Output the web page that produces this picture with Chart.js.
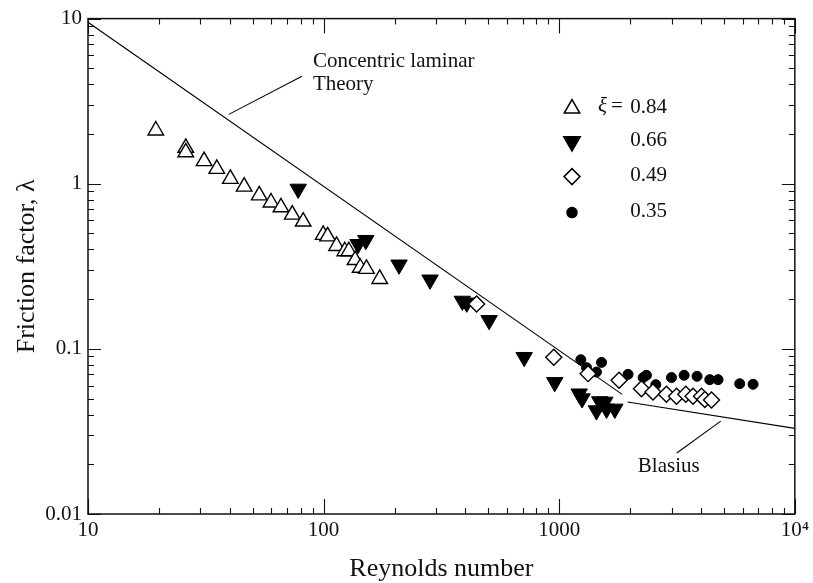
<!DOCTYPE html>
<html><head><meta charset="utf-8">
<script src="https://cdn.jsdelivr.net/npm/chart.js@4/dist/chart.umd.min.js"></script>
<style>html,body{margin:0;padding:0;background:#fff}canvas{display:block}</style>
</head><body>
<canvas id="c" width="813" height="583"></canvas>
<script>
// ---- data ----
const xi084Re     = [19.4, 26, 26, 31.1, 35.2, 40.2, 46, 53.3, 59.8, 65.9, 73.6, 81.9, 99.6, 104, 113.5, 123, 128, 136, 143, 152, 173];
const xi084Lambda = [2.1, 1.65, 1.55, 1.37, 1.23, 1.07, 0.96, 0.85, 0.77, 0.72, 0.65, 0.59, 0.49, 0.48, 0.42, 0.39, 0.39, 0.345, 0.31, 0.305, 0.265];
const xi066Re     = [78, 140, 151, 209, 283, 388, 405, 504, 710, 957, 1215, 1250, 1439, 1486, 1561, 1588, 1722];
const xi066Lambda = [0.93, 0.43, 0.455, 0.323, 0.262, 0.195, 0.19, 0.149, 0.089, 0.0627, 0.0535, 0.050, 0.0423, 0.048, 0.0477, 0.0433, 0.0433];
const xi049Re     = [446, 948, 1326, 1795, 2234, 2500, 2851, 3146, 3444, 3697, 4016, 4150, 4430];
const xi049Lambda = [0.187, 0.089, 0.0708, 0.0645, 0.0574, 0.0548, 0.0531, 0.0516, 0.0531, 0.0516, 0.0516, 0.0493, 0.049];
const xi035Re     = [1235, 1306, 1439, 1512, 1959, 2271, 2345, 2570, 2996, 3389, 3845, 4355, 4722, 5835, 6648];
const xi035Lambda = [0.0859, 0.0769, 0.0724, 0.0828, 0.0701, 0.067, 0.0692, 0.0607, 0.067, 0.0692, 0.0682, 0.0651, 0.0651, 0.0615, 0.061];

const laminarRe = [10, 1850];       const laminarLambda = [9.5, 0.053];
const blasiusRe = [1950, 10000];    const blasiusLambda = [0.0477, 0.033];
const laminarLeaderRe = [39.6, 80.9];   const laminarLeaderLambda = [2.63, 4.47];
const blasiusLeaderRe = [3155, 4848];   const blasiusLeaderLambda = [0.0234, 0.0365];

const noteTexts  = ['Concentric laminar', 'Theory', 'Blasius'];
const noteRe     = [90.1, 90.1, 2917];
const noteLambda = [5.5, 4.0, 0.0195];

const legendValues = ['0.84', '0.66', '0.49', '0.35'];
const legendSymbol = 'ξ';

const xTickValues = [10, 100, 1000, 10000];
const xTickLabels = ['10', '100', '1000', '10⁴'];
const yTickValues = [0.01, 0.1, 1, 10];
const yTickLabels = ['0.01', '0.1', '1', '10'];

const xTitle = 'Reynolds number';
const yTitle = 'Friction factor, λ';
// ------------------------------------------------

const SERIF = "'Liberation Serif', 'Times New Roman', serif";
const pts = (xs, ys) => xs.map((x, i) => ({x, y: ys[i]}));
function labelFor(v, vals, labs) {
  for (let i = 0; i < vals.length; i++) if (Math.abs(v / vals[i] - 1) < 1e-6) return labs[i];
  return '';
}

const markerStyles = [
  {pointStyle: 'triangle', radius: 9, rotation: 0, fill: '#fff', border: '#000', bw: 1.4},
  {pointStyle: 'triangle', radius: 9.5, rotation: 180, fill: '#000', border: '#000', bw: 1},
  {pointStyle: 'rectRot', radius: 8, rotation: 0, fill: '#fff', border: '#000', bw: 1.4},
  {pointStyle: 'circle', radius: 5, rotation: 0, fill: '#000', border: '#000', bw: 1}
];

function scatterSet(label, xs, ys, m, order) {
  return {label, data: pts(xs, ys), showLine: false, order,
    pointStyle: m.pointStyle, pointRadius: m.radius, pointRotation: m.rotation,
    pointBackgroundColor: m.fill, pointBorderColor: m.border, pointBorderWidth: m.bw,
    pointHoverRadius: m.radius};
}
function lineSet(label, xs, ys, order) {
  return {label, data: pts(xs, ys), showLine: true, pointRadius: 0, pointHoverRadius: 0,
    borderColor: '#000', borderWidth: 1.1, fill: false, order};
}

const framePlugin = {
  id: 'frame',
  afterDraw(chart) {
    const {ctx, chartArea: {left, right, top, bottom}} = chart;
    const xs = chart.scales.x, ys = chart.scales.y;
    ctx.save();
    ctx.strokeStyle = '#111';
    ctx.lineWidth = 1.1;
    ctx.beginPath();
    // x ticks (inward, bottom & top)
    for (let d = xs.min; d <= xs.max * 1.0001; d *= 10) {
      for (let m = 1; m <= 9; m++) {
        const v = m * d; if (v > xs.max * 1.0001) break;
        const px = Math.round(xs.getPixelForValue(v)) + 0.5;
        const L = m === 1 ? 15 : 6;
        ctx.moveTo(px, bottom); ctx.lineTo(px, bottom - L);
        ctx.moveTo(px, top); ctx.lineTo(px, top + L);
      }
    }
    // y ticks (inward, left & right)
    for (let d = ys.min; d <= ys.max * 1.0001; d *= 10) {
      for (let m = 1; m <= 9; m++) {
        const v = m * d; if (v > ys.max * 1.0001) break;
        const py = Math.round(ys.getPixelForValue(v)) + 0.5;
        const L = m === 1 ? 13 : 6;
        ctx.moveTo(left, py); ctx.lineTo(left + L, py);
        ctx.moveTo(right, py); ctx.lineTo(right - L, py);
      }
    }
    ctx.stroke();
    ctx.lineWidth = 1.5;
    ctx.strokeRect(left, top, right - left, bottom - top);

    // annotations
    ctx.fillStyle = '#111';
    ctx.font = '21px ' + SERIF;
    ctx.textBaseline = 'middle';
    for (let i = 0; i < noteTexts.length; i++) {
      ctx.textAlign = i < 2 ? 'left' : 'center';
      ctx.fillText(noteTexts[i], xs.getPixelForValue(noteRe[i]), ys.getPixelForValue(noteLambda[i]));
    }

    // legend
    const lx = left + 484, rowY = [top + 90, top + 123, top + 158, top + 194];
    for (let i = 0; i < 4; i++) {
      const m = markerStyles[i];
      ctx.fillStyle = m.fill; ctx.strokeStyle = m.border;
      Chart.helpers.drawPoint(ctx, {pointStyle: m.pointStyle, radius: m.radius, rotation: m.rotation, borderWidth: m.bw}, lx, rowY[i]);
      ctx.fillStyle = '#111';
      ctx.textAlign = 'right';
      ctx.font = '21px ' + SERIF;
      ctx.fillText(legendValues[i], lx + 95, rowY[i] - 1);
    }
    ctx.textAlign = 'left';
    ctx.font = 'italic 21px ' + SERIF;
    ctx.fillText(legendSymbol, lx + 26, rowY[0] - 2);
    ctx.font = '21px ' + SERIF;
    ctx.textAlign = 'center';
    ctx.fillText('=', lx + 45, rowY[0] - 2);
    ctx.restore();
  }
};

new Chart(document.getElementById('c'), {
  type: 'scatter',
  data: {datasets: [
    lineSet('Concentric laminar theory', laminarRe, laminarLambda, 5),
    lineSet('Blasius', blasiusRe, blasiusLambda, 5),
    lineSet('leader1', laminarLeaderRe, laminarLeaderLambda, 5),
    lineSet('leader2', blasiusLeaderRe, blasiusLeaderLambda, 5),
    scatterSet('ξ = 0.84', xi084Re, xi084Lambda, markerStyles[0], 4),
    scatterSet('0.66', xi066Re, xi066Lambda, markerStyles[1], 3),
    scatterSet('0.49', xi049Re, xi049Lambda, markerStyles[2], 1),
    scatterSet('0.35', xi035Re, xi035Lambda, markerStyles[3], 2)
  ]},
  options: {
    responsive: false, animation: false, devicePixelRatio: 1,
    layout: {padding: {left: 0, right: 18, top: 17, bottom: 0}},
    plugins: {legend: {display: false}, tooltip: {enabled: false}},
    scales: {
      x: {
        type: 'logarithmic', min: 10, max: 10000, position: 'bottom',
        grid: {display: false, drawTicks: false}, border: {display: false},
        afterFit(s) { s.height = 69; },
        ticks: {autoSkip: false, maxRotation: 0, padding: 4, color: '#111',
          font: {family: SERIF, size: 21},
          callback: v => labelFor(v, xTickValues, xTickLabels)},
        title: {display: true, text: xTitle, color: '#111', font: {family: SERIF, size: 26, lineHeight: 1.1}, padding: {top: 0, bottom: 0}}
      },
      y: {
        type: 'logarithmic', min: 0.01, max: 10,
        grid: {display: false, drawTicks: false}, border: {display: false},
        afterFit(s) { s.width = 88; },
        ticks: {autoSkip: false, padding: 6, color: '#111',
          font: {family: SERIF, size: 21},
          callback: v => labelFor(v, yTickValues, yTickLabels)},
        title: {display: true, text: yTitle, color: '#111', font: {family: SERIF, size: 26, lineHeight: 1.2}, padding: {top: 12, bottom: 0}}
      }
    }
  },
  plugins: [framePlugin]
});
</script>
</body></html>
